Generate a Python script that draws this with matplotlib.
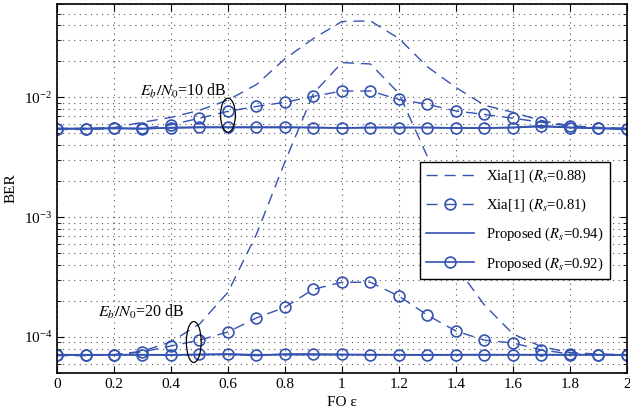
import matplotlib
matplotlib.use("Agg")
import matplotlib.pyplot as plt
from matplotlib.patches import Ellipse
from matplotlib.ticker import LogLocator, NullFormatter
import numpy as np

plt.rcParams['font.family'] = ['Liberation Serif', 'DejaVu Serif']
plt.rcParams['mathtext.fontset'] = 'stix'

fo = [0.0, 0.1, 0.2, 0.3, 0.4, 0.5, 0.6, 0.7, 0.8, 0.9, 1.0,
      1.1, 1.2, 1.3, 1.4, 1.5, 1.6, 1.7, 1.8, 1.9, 2.0]

# Eb/N0 = 10 dB
xia088_10 = [5.5e-3, 5.5e-3, 5.6e-3, 6.2e-3, 6.8e-3, 7.8e-3, 9.5e-3, 1.28e-2, 2.1e-2, 3.1e-2, 4.3e-2,
             4.35e-2, 3.1e-2, 1.8e-2, 1.21e-2, 8.6e-3, 7.5e-3, 6.4e-3, 5.8e-3, 5.6e-3, 5.5e-3]
xia081_10 = [5.4e-3, 5.4e-3, 5.5e-3, 5.5e-3, 5.9e-3, 6.7e-3, 7.65e-3, 8.4e-3, 9.1e-3, 1.02e-2, 1.13e-2,
             1.13e-2, 9.6e-3, 8.75e-3, 7.7e-3, 7.2e-3, 6.7e-3, 6.2e-3, 5.75e-3, 5.6e-3, 5.4e-3]
prop094_10 = [5.5e-3, 5.5e-3, 5.55e-3, 5.5e-3, 5.55e-3, 5.6e-3, 5.6e-3, 5.6e-3, 5.6e-3, 5.6e-3, 5.55e-3,
              5.6e-3, 5.6e-3, 5.6e-3, 5.55e-3, 5.55e-3, 5.6e-3, 5.7e-3, 5.6e-3, 5.55e-3, 5.5e-3]
prop092_10 = [5.45e-3, 5.45e-3, 5.5e-3, 5.45e-3, 5.6e-3, 5.65e-3, 5.65e-3, 5.65e-3, 5.65e-3, 5.6e-3, 5.55e-3,
              5.6e-3, 5.6e-3, 5.6e-3, 5.55e-3, 5.55e-3, 5.6e-3, 5.8e-3, 5.6e-3, 5.5e-3, 5.4e-3]

# Eb/N0 = 20 dB
xia088_20 = [7.0e-5, 7.0e-5, 7.1e-5, 7.6e-5, 9.1e-5, 1.28e-4, 2.36e-4, 7.2e-4, 2.9e-3, 1.08e-2, 1.95e-2,
             1.9e-2, 1.08e-2, 3.2e-3, 3.9e-4, 1.85e-4, 1.06e-4, 8.3e-5, 7.4e-5, 7.2e-5, 7.1e-5]
xia081_20 = [7.0e-5, 7.0e-5, 7.1e-5, 7.5e-5, 8.4e-5, 9.4e-5, 1.1e-4, 1.44e-4, 1.77e-4, 2.5e-4, 2.86e-4,
             2.86e-4, 2.19e-4, 1.52e-4, 1.12e-4, 9.4e-5, 8.9e-5, 7.8e-5, 7.2e-5, 7.1e-5, 7.0e-5]
prop094_20 = [7.1e-5, 7.1e-5, 7.1e-5, 7.1e-5, 7.1e-5, 7.1e-5, 7.2e-5, 7.1e-5, 7.1e-5, 7.1e-5, 7.1e-5,
              7.1e-5, 7.1e-5, 7.1e-5, 7.1e-5, 7.1e-5, 7.1e-5, 7.1e-5, 7.1e-5, 7.1e-5, 7.1e-5]
prop092_20 = [7.1e-5, 7.05e-5, 7.1e-5, 7.1e-5, 7.05e-5, 7.15e-5, 7.15e-5, 7.0e-5, 7.2e-5, 7.2e-5, 7.15e-5,
              7.1e-5, 7.1e-5, 7.05e-5, 7.1e-5, 7.1e-5, 7.1e-5, 7.1e-5, 7.1e-5, 7.1e-5, 7.05e-5]

xtick_labels = ['0', '0.2', '0.4', '0.6', '0.8', '1', '1.2', '1.4', '1.6', '1.8', '2']
labels = ['Xia[1] ($R_s$=0.88)', 'Xia[1] ($R_s$=0.81)',
          'Proposed ($R_s$=0.94)', 'Proposed ($R_s$=0.92)']

color = '#3553b0'
fig = plt.figure(figsize=(6.3, 4.16), dpi=100)
ax = fig.add_axes([0.0905, 0.1034, 0.9045, 0.8866])

dash = (8, 5)
ms = 7.8
for i, (a, b, c, d) in enumerate([(xia088_10, xia081_10, prop094_10, prop092_10),
                                  (xia088_20, xia081_20, prop094_20, prop092_20)]):
    ax.plot(fo, a, color=color, lw=1.0, dashes=dash, label=labels[0] if i == 0 else None)
    ax.plot(fo, b, color=color, lw=1.0, dashes=dash, marker='o', ms=ms, mfc='none',
            mew=1.2, label=labels[1] if i == 0 else None)
    ax.plot(fo, c, color=color, lw=1.2, label=labels[2] if i == 0 else None)
    ax.plot(fo, d, color=color, lw=1.2, marker='o', ms=ms, mfc='none', mew=1.2,
            label=labels[3] if i == 0 else None)

ax.set_yscale('log')
ax.set_xlim(0, 2)
ax.set_ylim(5e-5, 6e-2)
ax.set_xticks(np.linspace(0, 2, 11))
ax.set_xticklabels(xtick_labels)
ax.yaxis.set_major_locator(LogLocator(base=10, numticks=10))
ax.yaxis.set_minor_locator(LogLocator(base=10, subs=np.arange(2, 10), numticks=20))
ax.yaxis.set_minor_formatter(NullFormatter())
ax.tick_params(which='both', direction='in', top=True, right=True, labelsize=11)
ax.tick_params(which='major', length=5)
ax.tick_params(which='minor', length=3)
ax.grid(True, which='major', linestyle=(0, (1, 4)), color='#555555', lw=0.8)
ax.grid(True, which='minor', axis='y', linestyle=(0, (1, 4)), color='#555555', lw=0.8)
for s in ax.spines.values():
    s.set_linewidth(1.2)

ax.set_xlabel('FO ε', fontsize=11, labelpad=4)
ax.set_ylabel('BER', fontsize=11)

ax.text(0.145, 0.765, '$E_b/N_0$=10 dB', transform=ax.transAxes, fontsize=11.5, va='center', ha='left')
ax.text(0.072, 0.165, '$E_b/N_0$=20 dB', transform=ax.transAxes, fontsize=11.5, va='center', ha='left')

ax.add_patch(Ellipse((0.300, 0.699), 0.026, 0.092, transform=ax.transAxes,
                     fill=False, edgecolor='black', lw=0.9, zorder=5))
ax.add_patch(Ellipse((0.240, 0.084), 0.026, 0.111, transform=ax.transAxes,
                     fill=False, edgecolor='black', lw=0.9, zorder=5))

leg = ax.legend(loc='upper left', bbox_to_anchor=(0.637, 0.572), borderaxespad=0,
                fontsize=10.6, handlelength=3.3, labelspacing=0.8, fancybox=False,
                framealpha=1, edgecolor='black')
leg.get_frame().set_linewidth(1.0)

fig.savefig('out.png', dpi=100)
